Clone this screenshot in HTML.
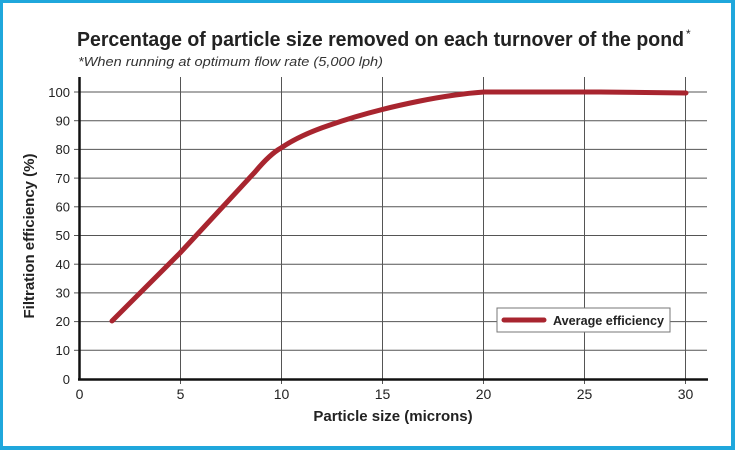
<!DOCTYPE html>
<html><head><meta charset="utf-8"><style>
html,body{margin:0;padding:0;background:#fff}
svg{display:block}
</style></head><body>
<svg width="735" height="450" viewBox="0 0 735 450" xmlns="http://www.w3.org/2000/svg" font-family="Liberation Sans, sans-serif">
<rect x="0" y="0" width="735" height="450" fill="#1fa7dc"/>
<rect x="3" y="3" width="728" height="443" fill="#fff"/>
<text x="77" y="46" font-size="20" font-weight="bold" fill="#222" textLength="607" lengthAdjust="spacingAndGlyphs">Percentage of particle size removed on each turnover of the pond</text>
<text x="686" y="38" font-size="12" fill="#222">*</text>
<text x="78" y="66" font-size="13" font-style="italic" fill="#333" textLength="305" lengthAdjust="spacingAndGlyphs">*When running at optimum flow rate (5,000 lph)</text>
<g stroke="#555" stroke-width="1">
<line x1="80" y1="92" x2="707" y2="92"/><line x1="80" y1="120.7" x2="707" y2="120.7"/><line x1="80" y1="149.4" x2="707" y2="149.4"/><line x1="80" y1="178.1" x2="707" y2="178.1"/><line x1="80" y1="206.8" x2="707" y2="206.8"/><line x1="80" y1="235.5" x2="707" y2="235.5"/><line x1="80" y1="264.2" x2="707" y2="264.2"/><line x1="80" y1="292.9" x2="707" y2="292.9"/><line x1="80" y1="321.6" x2="707" y2="321.6"/><line x1="80" y1="350.3" x2="707" y2="350.3"/>
<line x1="180.5" y1="77" x2="180.5" y2="384"/><line x1="281.5" y1="77" x2="281.5" y2="384"/><line x1="382.5" y1="77" x2="382.5" y2="384"/><line x1="483.5" y1="77" x2="483.5" y2="384"/><line x1="584.5" y1="77" x2="584.5" y2="384"/><line x1="685.5" y1="77" x2="685.5" y2="384"/>
<line x1="74" y1="92" x2="80" y2="92"/><line x1="74" y1="120.7" x2="80" y2="120.7"/><line x1="74" y1="149.4" x2="80" y2="149.4"/><line x1="74" y1="178.1" x2="80" y2="178.1"/><line x1="74" y1="206.8" x2="80" y2="206.8"/><line x1="74" y1="235.5" x2="80" y2="235.5"/><line x1="74" y1="264.2" x2="80" y2="264.2"/><line x1="74" y1="292.9" x2="80" y2="292.9"/><line x1="74" y1="321.6" x2="80" y2="321.6"/><line x1="74" y1="350.3" x2="80" y2="350.3"/>
</g>
<line x1="79.5" y1="77" x2="79.5" y2="380" stroke="#111" stroke-width="2.5"/>
<line x1="78" y1="379.5" x2="708" y2="379.5" stroke="#111" stroke-width="2.5"/>
<path d="M112,321 L180,253 L255,172 Q270,154 281,148 Q300,135 330,125 Q370,111 420,101 Q455,94 484,92 L600,92 L686,93" fill="none" stroke="#a8252f" stroke-width="5" stroke-linecap="round" stroke-linejoin="round"/>
<g font-size="13" fill="#222" text-anchor="end">
<text x="70" y="97">100</text><text x="70" y="125.5">90</text><text x="70" y="154">80</text><text x="70" y="183">70</text><text x="70" y="211.5">60</text><text x="70" y="240">50</text><text x="70" y="269">40</text><text x="70" y="297.5">30</text><text x="70" y="326">20</text><text x="70" y="355">10</text><text x="70" y="384">0</text>
</g>
<g font-size="14" fill="#222" text-anchor="middle">
<text x="79.5" y="399">0</text><text x="180.5" y="399">5</text><text x="281.5" y="399">10</text><text x="382.5" y="399">15</text><text x="483.5" y="399">20</text><text x="584.5" y="399">25</text><text x="685.5" y="399">30</text>
</g>
<text x="393" y="421" font-size="15" font-weight="bold" fill="#222" text-anchor="middle">Particle size (microns)</text>
<text transform="translate(34,236) rotate(-90)" font-size="15" font-weight="bold" fill="#222" text-anchor="middle">Filtration efficiency (%)</text>
<rect x="497" y="308" width="173" height="24" fill="#fff" stroke="#777" stroke-width="1"/>
<line x1="504" y1="320" x2="544" y2="320" stroke="#a8252f" stroke-width="5" stroke-linecap="round"/>
<text x="553" y="325" font-size="13" font-weight="bold" fill="#222" textLength="111" lengthAdjust="spacingAndGlyphs">Average efficiency</text>
</svg>
</body></html>
